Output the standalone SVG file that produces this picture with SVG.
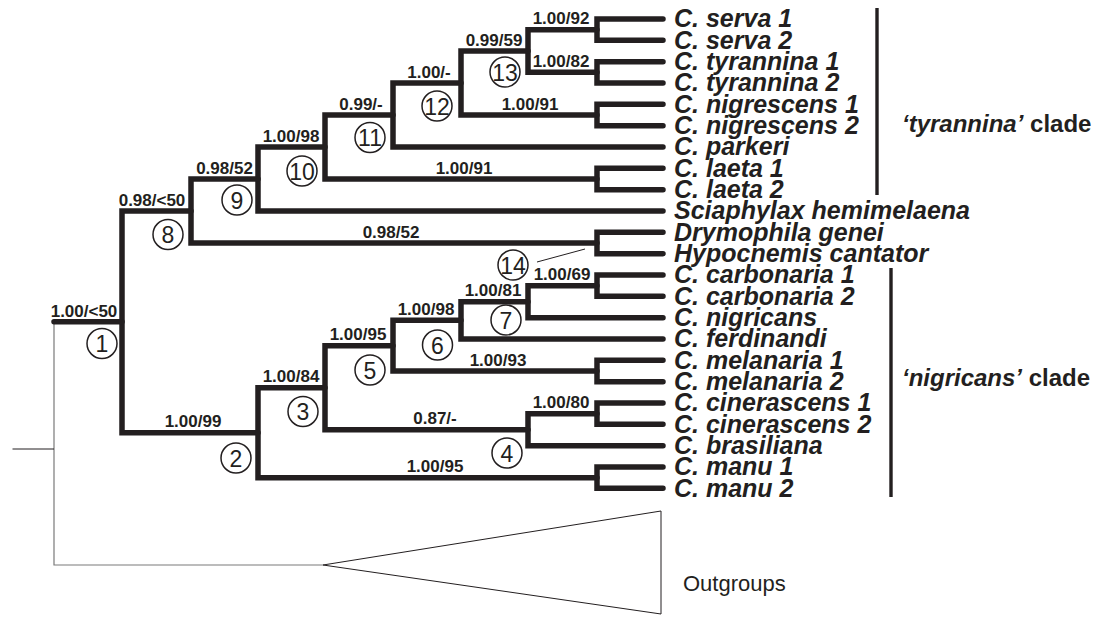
<svg xmlns="http://www.w3.org/2000/svg" width="1104" height="617" viewBox="0 0 1104 617">
  <style>
    .br { fill: none; stroke: #231f20; stroke-width: 5.5; stroke-linecap: round; stroke-linejoin: miter; }
    .thin { fill: none; stroke: #231f20; stroke-width: 1; }
    .grey { fill: none; stroke: #7a7a7a; stroke-width: 1.2; }
    .bar { stroke: #231f20; stroke-width: 3.4; }
    .sup { font-family: "Liberation Sans", Arial, sans-serif; font-weight: bold; font-size: 17px; fill: #231f20; text-anchor: middle; }
    .tax { font-family: "Liberation Sans", Arial, sans-serif; font-weight: bold; font-style: italic; font-size: 25px; fill: #231f20; }
    .clade { font-family: "Liberation Sans", Arial, sans-serif; font-weight: bold; font-size: 24px; fill: #231f20; }
    .num circle { fill: #ffffff; stroke: #231f20; stroke-width: 1.5; }
    .num text { font-family: "Liberation Sans", Arial, sans-serif; font-size: 23px; fill: #231f20; text-anchor: middle; }
    .og { font-family: "Liberation Sans", Arial, sans-serif; font-size: 22px; fill: #231f20; }
  </style>

  <!-- tree branches -->
  <g id="connectors">
    <!-- root and outgroup (thin) -->
    <path class="grey" d="M54,322 V565 H323"/>
    <path class="thin" d="M12.5,449 H54"/>
    <path class="thin" d="M323,565 L661,511 V614 Z"/>

    <!-- terminal pairs -->
    <path class="br" d="M663,19 H597 V40.33 H663"/>
    <path class="br" d="M663,61.67 H597 V83 H663"/>
    <path class="br" d="M663,104.33 H597 V125.67 H663"/>
    <path class="br" d="M663,168.33 H597 V189.67 H663"/>
    <path class="br" d="M663,232.33 H597 V253.67 H663"/>
    <path class="br" d="M663,275 H597 V296.33 H663"/>
    <path class="br" d="M663,360.33 H597 V381.67 H663"/>
    <path class="br" d="M663,403 H597 V424.33 H663"/>
    <path class="br" d="M663,467 H597 V488.33 H663"/>

    <!-- internal nodes -->
    <path class="br" d="M597,29.67 H528 V72.33 H597"/>
    <path class="br" d="M528,51 H461 V115 H597"/>
    <path class="br" d="M461,83 H393 V147 H663"/>
    <path class="br" d="M393,115 H325 V179 H597"/>
    <path class="br" d="M325,147 H258 V211 H663"/>
    <path class="br" d="M258,179 H191 V243 H597"/>
    <path class="br" d="M191,211 H122 V432.67 H258"/>
    <path class="br" d="M54,321.8 H122"/>
    <path class="br" d="M325,387.67 H258 V477.67 H597"/>
    <path class="br" d="M393,345.67 H325 V429.67 H528"/>
    <path class="br" d="M461,320.33 H393 V371 H597"/>
    <path class="br" d="M528,301.67 H461 V339 H663"/>
    <path class="br" d="M597,285.67 H528 V317.67 H663"/>
    <path class="br" d="M597,413.67 H528 V445.67 H663"/>

    <!-- pointer from node 14 -->
    <path class="thin" d="M537,262 L585,249"/>
  </g>

  <!-- support values (posterior probability / bootstrap) -->
  <g id="support">
    <text class="sup" x="84" y="316.5">1.00/&lt;50</text>
    <text class="sup" x="152" y="205.5">0.98/&lt;50</text>
    <text class="sup" x="224.5" y="173.5">0.98/52</text>
    <text class="sup" x="291" y="141.5">1.00/98</text>
    <text class="sup" x="361" y="109.5">0.99/-</text>
    <text class="sup" x="429" y="77.5">1.00/-</text>
    <text class="sup" x="494" y="45.5">0.99/59</text>
    <text class="sup" x="561" y="24">1.00/92</text>
    <text class="sup" x="561" y="66.8">1.00/82</text>
    <text class="sup" x="530" y="109.5">1.00/91</text>
    <text class="sup" x="464" y="173.5">1.00/91</text>
    <text class="sup" x="391" y="237.5">0.98/52</text>
    <text class="sup" x="193" y="427">1.00/99</text>
    <text class="sup" x="291" y="382">1.00/84</text>
    <text class="sup" x="358" y="340">1.00/95</text>
    <text class="sup" x="426" y="314.8">1.00/98</text>
    <text class="sup" x="493" y="296">1.00/81</text>
    <text class="sup" x="562" y="280">1.00/69</text>
    <text class="sup" x="498" y="365.5">1.00/93</text>
    <text class="sup" x="435" y="424">0.87/-</text>
    <text class="sup" x="561" y="408">1.00/80</text>
    <text class="sup" x="435" y="472">1.00/95</text>
  </g>

  <!-- numbered nodes -->
  <g id="node-1" class="num"><circle cx="102" cy="343.5" r="15"/><text x="102" y="352">1</text></g>
  <g id="node-2" class="num"><circle cx="236" cy="458" r="15"/><text x="236" y="466.5">2</text></g>
  <g id="node-3" class="num"><circle cx="303" cy="411.5" r="15"/><text x="303" y="420">3</text></g>
  <g id="node-4" class="num"><circle cx="507" cy="453" r="15"/><text x="507" y="461.5">4</text></g>
  <g id="node-5" class="num"><circle cx="370" cy="370" r="15"/><text x="370" y="378.5">5</text></g>
  <g id="node-6" class="num"><circle cx="437.5" cy="345" r="15"/><text x="437.5" y="353.5">6</text></g>
  <g id="node-7" class="num"><circle cx="506" cy="320" r="15"/><text x="506" y="328.5">7</text></g>
  <g id="node-8" class="num"><circle cx="168" cy="234.5" r="15"/><text x="168" y="243">8</text></g>
  <g id="node-9" class="num"><circle cx="237" cy="200" r="15"/><text x="237" y="208.5">9</text></g>
  <g id="node-10" class="num"><circle cx="302" cy="171" r="15"/><text x="302" y="179.5">10</text></g>
  <g id="node-11" class="num"><circle cx="370" cy="137.5" r="15"/><text x="370" y="146">11</text></g>
  <g id="node-12" class="num"><circle cx="437" cy="106" r="15"/><text x="437" y="114.5">12</text></g>
  <g id="node-13" class="num"><circle cx="505" cy="72" r="15"/><text x="505" y="80.5">13</text></g>
  <g id="node-14" class="num"><circle cx="513" cy="265" r="15"/><text x="513" y="273.5">14</text></g>

  <!-- terminal taxa -->
  <g id="taxa">
    <g id="t-serva1"><text class="tax" x="674" y="27.3">C. serva 1</text></g>
    <g id="t-serva2"><text class="tax" x="674" y="48.6">C. serva 2</text></g>
    <g id="t-tyrannina1"><text class="tax" x="674" y="70">C. tyrannina 1</text></g>
    <g id="t-tyrannina2"><text class="tax" x="674" y="91.3">C. tyrannina 2</text></g>
    <g id="t-nigrescens1"><text class="tax" x="674" y="112.6">C. nigrescens 1</text></g>
    <g id="t-nigrescens2"><text class="tax" x="674" y="134">C. nigrescens 2</text></g>
    <g id="t-parkeri"><text class="tax" x="674" y="155.3">C. parkeri</text></g>
    <g id="t-laeta1"><text class="tax" x="674" y="176.6">C. laeta 1</text></g>
    <g id="t-laeta2"><text class="tax" x="674" y="198">C. laeta 2</text></g>
    <g id="t-sciaphylax"><text class="tax" x="674" y="219.3">Sciaphylax hemimelaena</text></g>
    <g id="t-drymophila"><text class="tax" x="674" y="240.6">Drymophila genei</text></g>
    <g id="t-hypocnemis"><text class="tax" x="674" y="262">Hypocnemis cantator</text></g>
    <g id="t-carbonaria1"><text class="tax" x="674" y="283.3">C. carbonaria 1</text></g>
    <g id="t-carbonaria2"><text class="tax" x="674" y="304.6">C. carbonaria 2</text></g>
    <g id="t-nigricans"><text class="tax" x="674" y="326">C. nigricans</text></g>
    <g id="t-ferdinandi"><text class="tax" x="674" y="347.3">C. ferdinandi</text></g>
    <g id="t-melanaria1"><text class="tax" x="674" y="368.6">C. melanaria 1</text></g>
    <g id="t-melanaria2"><text class="tax" x="674" y="390">C. melanaria 2</text></g>
    <g id="t-cinerascens1"><text class="tax" x="674" y="411.3">C. cinerascens 1</text></g>
    <g id="t-cinerascens2"><text class="tax" x="674" y="432.6">C. cinerascens 2</text></g>
    <g id="t-brasiliana"><text class="tax" x="674" y="454">C. brasiliana</text></g>
    <g id="t-manu1"><text class="tax" x="674" y="475.3">C. manu 1</text></g>
    <g id="t-manu2"><text class="tax" x="674" y="496.6">C. manu 2</text></g>
  </g>

  <!-- clade brackets -->
  <g id="clade-tyrannina">
    <line class="bar" x1="877" y1="8" x2="877" y2="195"/>
    <text class="clade" x="902" y="132"><tspan font-style="italic">‘tyrannina’</tspan> clade</text>
  </g>
  <g id="clade-nigricans">
    <line class="bar" x1="891" y1="268" x2="891" y2="497"/>
    <text class="clade" x="902" y="385.5"><tspan font-style="italic">‘nigricans’</tspan> clade</text>
  </g>

  <!-- collapsed outgroup label -->
  <g id="outgroups">
    <text class="og" x="683" y="591">Outgroups</text>
  </g>
</svg>
